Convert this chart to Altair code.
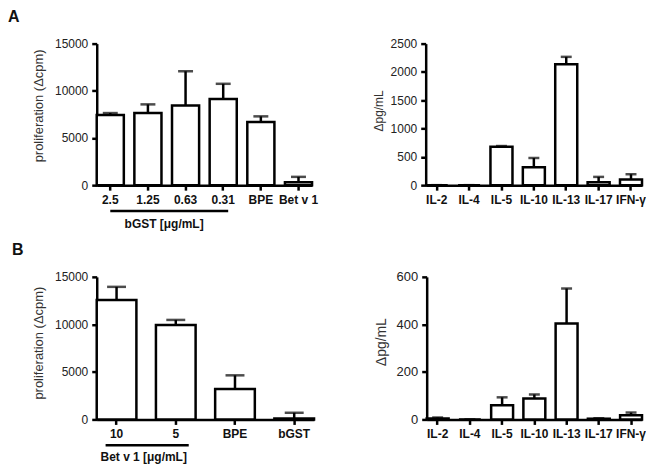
import altair as alt
import pandas as pd

FONT = "Liberation Sans"
SW = 2.5

# ---- data ----
a1_cats = ["2.5", "1.25", "0.63", "0.31", "BPE", "Bet v 1"]
a1_vals = [7430, 7640, 8450, 9120, 6690, 320]
a1_errs = [7640, 8560, 12070, 10740, 7290, 880]

a2_cats = ["IL-2", "IL-4", "IL-5", "IL-10", "IL-13", "IL-17", "IFN-γ"]
a2_vals = [0, 0, 679, 316, 2137, 53, 100]
a2_errs = [0, 0, 691, 480, 2266, 146, 193]

b1_cats = ["10", "5", "BPE", "bGST"]
b1_vals = [12560, 9940, 3210, 100]
b1_errs = [13950, 10470, 4640, 700]

b2_cats = ["IL-2", "IL-4", "IL-5", "IL-10", "IL-13", "IL-17", "IFN-γ"]
b2_vals = [4, 0, 60, 88, 404, 3, 18]
b2_errs = [8, 0, 93, 105, 551, 5, 29]

a1_ticks = [0, 5000, 10000, 15000]
a2_ticks = [0, 500, 1000, 1500, 2000, 2500]
b1_ticks = [0, 5000, 10000, 15000]
b2_ticks = [0, 200, 400, 600]


def panel(cats, vals, errs, width, height, ymax, yticks, ytitle, title_size,
          title_pad, title_y, label_size, pad_inner, cap, letter, letter_x,
          letter_y, group=None, group_off=(0, 0), group_y=168, label_y=185):
    df = pd.DataFrame({"cat": cats, "val": vals, "err": errs})
    xscale = alt.Scale(domain=cats, paddingInner=pad_inner, paddingOuter=0)
    xaxis = alt.Axis(title=None, labelAngle=0, labelFont=FONT, labelFontSize=12,
                     labelFontWeight="bold", labelColor="#111", labelPadding=4,
                     tickSize=5, tickWidth=SW, tickColor="black",
                     domainWidth=SW, domainColor="black")
    yscale = alt.Scale(domain=[0, ymax], nice=False, zero=True)
    yaxis = alt.Axis(title=ytitle, values=yticks, format="d", grid=False,
                     labelFont=FONT, labelFontSize=label_size, labelColor="#222",
                     labelPadding=4, tickSize=5, tickWidth=SW, tickColor="black",
                     domainWidth=SW, domainColor="black",
                     titleFont=FONT, titleFontSize=title_size,
                     titleFontWeight="normal", titleColor="#333",
                     titlePadding=title_pad, titleY=title_y)
    X = alt.X("cat:N", scale=xscale, axis=xaxis)
    base = alt.Chart(df)
    rule = base.mark_rule(color="black", strokeWidth=SW).encode(
        x=X, y=alt.Y("val:Q", scale=yscale, axis=yaxis), y2="err:Q")
    capm = base.mark_tick(color="black", thickness=SW, size=cap).encode(
        x=X, y=alt.Y("err:Q", scale=yscale, axis=yaxis))
    bars = base.mark_bar(fill="white", stroke="black", strokeWidth=SW).encode(
        x=X, y=alt.Y("val:Q", scale=yscale, axis=yaxis))
    layers = [rule, capm, bars]

    lt = alt.Chart(pd.DataFrame({"t": [letter]})).mark_text(
        font=FONT, fontSize=16, fontWeight="bold", color="#111",
        align="left", baseline="alphabetic").encode(
        text="t:N", x=alt.value(letter_x), y=alt.value(letter_y))
    layers.append(lt)

    if group is not None:
        gcats, glabel = group
        step = width / len(cats)
        gline = alt.Chart(pd.DataFrame({"g": [0]})).mark_rule(
            color="black", strokeWidth=SW, xOffset=group_off[0],
            x2Offset=group_off[1]).encode(
            x=alt.X(datum=gcats[0], type="nominal", scale=xscale, axis=xaxis),
            x2=alt.X2(datum=gcats[-1]),
            y=alt.value(group_y))
        glab = alt.Chart(pd.DataFrame({"t": [glabel]})).mark_text(
            font=FONT, fontSize=12, fontWeight="bold", color="#111",
            align="center", baseline="alphabetic",
            dx=step * (len(gcats) - 1) / 2).encode(
            text="t:N",
            x=alt.X(datum=gcats[0], type="nominal", scale=xscale, axis=xaxis),
            y=alt.value(label_y))
        layers += [gline, glab]

    return alt.layer(*layers).properties(width=width, height=height)


a1 = panel(a1_cats, a1_vals, a1_errs, 216, 142, 15000, a1_ticks,
           "proliferation (Δcpm)", 13, 9, 62, 12, 0.28, 15, "A", -89, -22,
           group=(["2.5", "1.25", "0.63", "0.31"], "bGST [μg/mL]"),
           group_off=(0, 5), group_y=168, label_y=185)
a2 = panel(a2_cats, a2_vals, a2_errs, 217, 142, 2500, a2_ticks,
           "Δpg/mL", 12, 5, 67, 12, 0.32, 11, "", 0, 0)
b1 = panel(b1_cats, b1_vals, b1_errs, 218, 143, 15000, b1_ticks,
           "proliferation (Δcpm)", 13, 9, 66, 12, 0.33, 19, "B", -85, -22,
           group=(["10", "5"], "Bet v 1 [μg/mL]"),
           group_off=(-11, 13), group_y=169, label_y=185)
b2 = panel(b2_cats, b2_vals, b2_errs, 216, 143, 600, b2_ticks,
           "Δpg/mL", 14, 8, 65, 13, 0.32, 11, "", 0, 0)

row_a = alt.hconcat(a1, a2, spacing=114, bounds="flush")
row_b = alt.hconcat(b1, b2, spacing=113, bounds="flush")

chart = alt.vconcat(row_a, row_b, spacing=12, bounds="full").properties(
    padding=0).configure(font=FONT).configure_view(stroke=None)

chart.save("out.html", embed_options={"renderer": "svg", "actions": False})
